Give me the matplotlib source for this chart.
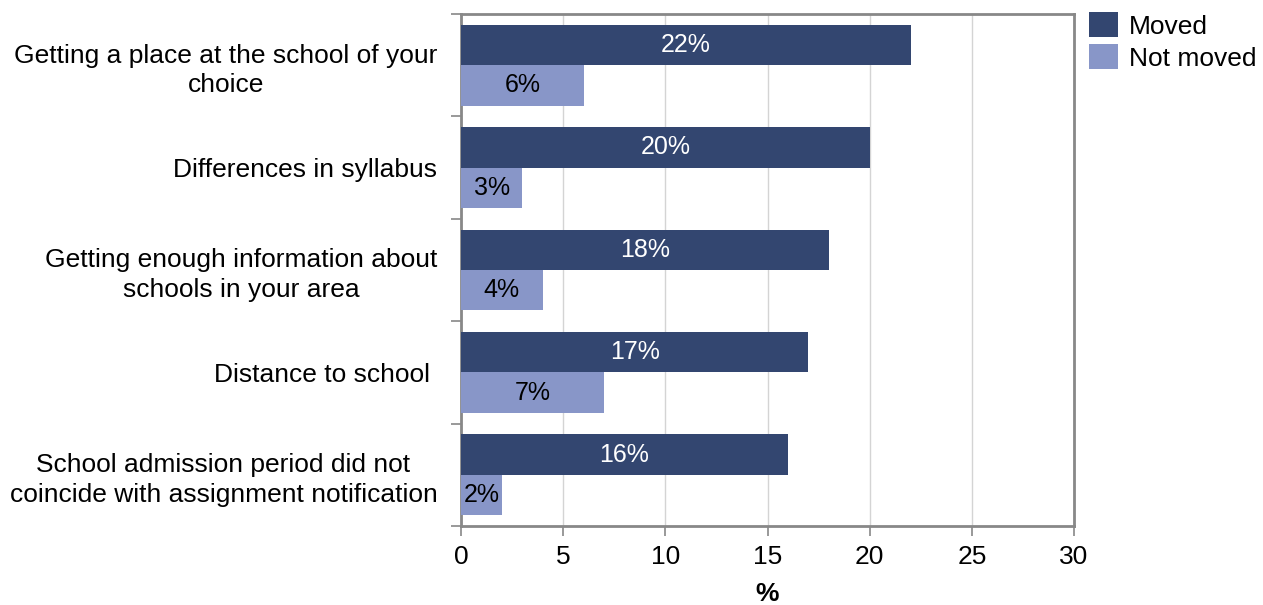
import matplotlib
matplotlib.use("Agg")
import matplotlib.pyplot as plt
from matplotlib.patches import Patch
import numpy as np

plt.rcParams['font.family'] = ['Liberation Sans', 'DejaVu Sans']

categories = [
    "Getting a place at the school of your\nchoice",
    "Differences in syllabus",
    "Getting enough information about\nschools in your area",
    "Distance to school ",
    "School admission period did not\ncoincide with assignment notification",
]
moved = [22, 20, 18, 17, 16]
not_moved = [6, 3, 4, 7, 2]
series_names = ["Moved", "Not moved"]
x_ticks = [0, 5, 10, 15, 20, 25, 30]

c_moved = "#334670"
c_not = "#8896c8"
edge = "#888888"

fig = plt.figure(figsize=(12.63, 6.05), dpi=100)
ax = fig.add_axes([461 / 1263, 1 - 526 / 605, (1074 - 461) / 1263, (526 - 14) / 605])

y = np.arange(len(categories))
h = 0.395
ax.barh(y - h / 2, moved, height=h, color=c_moved, zorder=3)
ax.barh(y + h / 2, not_moved, height=h, color=c_not, zorder=3)

fs = 19
fs_bar = 18
for yi, v in zip(y, moved):
    ax.text(v / 2, yi - h / 2, f"{v}%", ha="center", va="center",
            color="white", fontsize=fs_bar, zorder=4)
for yi, v in zip(y, not_moved):
    ax.text(v / 2, yi + h / 2, f"{v}%", ha="center", va="center",
            color="black", fontsize=fs_bar, zorder=4)

ax.set_xlim(0, 30)
ax.set_ylim(len(categories) - 0.5, -0.5)
ax.set_xticks(x_ticks)
ax.set_xticklabels([str(t) for t in x_ticks], fontsize=fs)
ax.xaxis.grid(True, color="#d4d4d4", linewidth=1, zorder=0)
ax.set_axisbelow(True)

# category labels placed at band centres, ticks at band edges
ax.set_yticks(np.arange(len(categories) + 1) - 0.5)
ax.set_yticklabels([])
ax.set_yticks(y, minor=True)
ax.set_yticklabels(categories, minor=True, fontsize=fs, ha="right",
                   multialignment="center", linespacing=1.3)
ax.tick_params(axis="y", which="minor", length=0, pad=17)
ax.tick_params(axis="y", which="major", length=7, color=edge, width=1.2)
ax.tick_params(axis="x", length=7, color=edge, width=1.2, pad=7)

for s in ax.spines.values():
    s.set_color(edge)
    s.set_linewidth(2)

ax.set_xlabel("%", fontsize=fs, fontweight="bold", labelpad=9)

handles = [Patch(facecolor=c_moved), Patch(facecolor=c_not)]
fig.legend(handles, series_names, loc="upper left",
           bbox_to_anchor=(1089 / 1263, 1 - 12 / 605), frameon=False,
           fontsize=fs, handlelength=1.1, handleheight=1.1,
           handletextpad=0.4, labelspacing=0.2, borderaxespad=0,
           borderpad=0)

fig.savefig("out.png", dpi=100)
